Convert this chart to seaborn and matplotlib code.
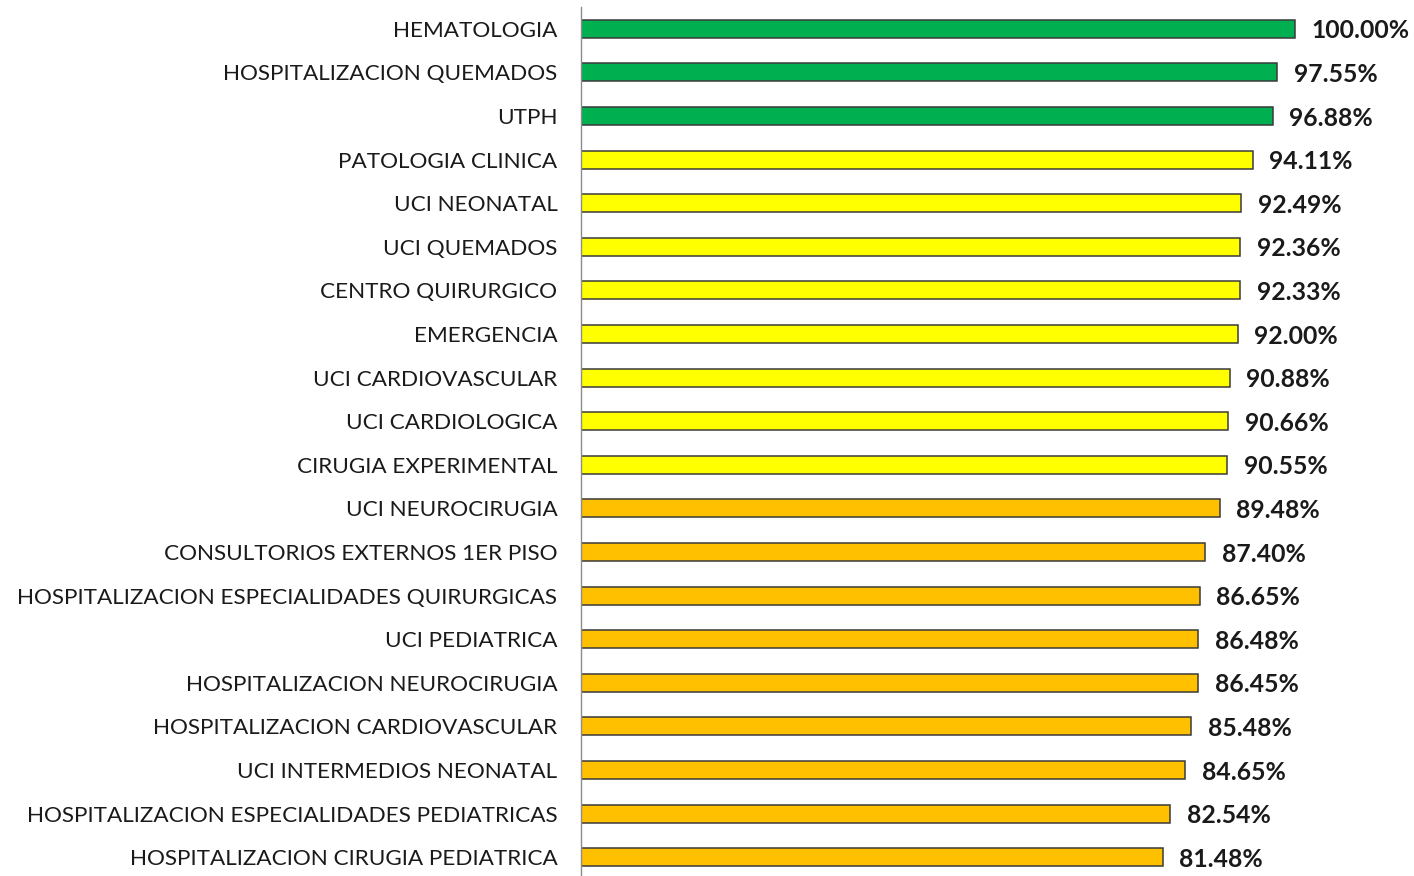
import matplotlib
matplotlib.use("Agg")
import matplotlib.pyplot as plt
import seaborn as sns
import pandas as pd
from matplotlib.ticker import FixedLocator

servicios = [
    "HEMATOLOGIA",
    "HOSPITALIZACION QUEMADOS",
    "UTPH",
    "PATOLOGIA CLINICA",
    "UCI NEONATAL",
    "UCI QUEMADOS",
    "CENTRO QUIRURGICO",
    "EMERGENCIA",
    "UCI CARDIOVASCULAR",
    "UCI CARDIOLOGICA",
    "CIRUGIA EXPERIMENTAL",
    "UCI NEUROCIRUGIA",
    "CONSULTORIOS EXTERNOS 1ER PISO",
    "HOSPITALIZACION ESPECIALIDADES QUIRURGICAS",
    "UCI PEDIATRICA",
    "HOSPITALIZACION NEUROCIRUGIA",
    "HOSPITALIZACION CARDIOVASCULAR",
    "UCI INTERMEDIOS NEONATAL",
    "HOSPITALIZACION ESPECIALIDADES PEDIATRICAS",
    "HOSPITALIZACION CIRUGIA PEDIATRICA",
]
porcentajes = [100.00, 97.55, 96.88, 94.11, 92.49, 92.36, 92.33, 92.00, 90.88,
               90.66, 90.55, 89.48, 87.40, 86.65, 86.48, 86.45, 85.48, 84.65,
               82.54, 81.48]
niveles = ["alto"] * 3 + ["medio"] * 8 + ["bajo"] * 9
colores = {"alto": "#00B050", "medio": "#FFFF00", "bajo": "#FFC000"}

df = pd.DataFrame({"servicio": servicios, "valor": porcentajes, "nivel": niveles})

sns.set_style("white")
plt.rcParams["font.family"] = ["Lato", "DejaVu Sans"]

fig = plt.figure(figsize=(14.14, 8.76), dpi=100)
ax = fig.add_axes([581 / 1414, -3 / 876, (1414 - 581) / 1414, 872 / 876])

sns.barplot(data=df, x="valor", y="servicio", hue="nivel", palette=colores,
            saturation=1, dodge=False, width=0.41, edgecolor="#3a3a3a",
            linewidth=1.1, legend=False, ax=ax, order=servicios)

ax.set_xlim(0, 116.7)
ax.set_ylim(len(servicios) - 0.5, -0.5)
ax.set_xlabel("")
ax.set_ylabel("")
ax.set_xticks([])

for s in ["top", "right", "bottom"]:
    ax.spines[s].set_visible(False)
ax.spines["left"].set_color("#8c8c8c")
ax.spines["left"].set_linewidth(1.0)

# labels at category centres without marks, marks at the boundaries
ax.tick_params(axis="y", which="major", length=0, pad=17, labelsize=16.2,
               labelcolor="#1a1a1a")
ax.yaxis.set_minor_locator(FixedLocator([i - 0.5 for i in range(len(servicios) + 1)]))
ax.tick_params(axis="y", which="minor", length=6, width=1.0, color="#8c8c8c",
               direction="out")

for cont in ax.containers:
    labels = [f"{b.get_width():.2f}%" if b.get_width() > 0 else "" for b in cont]
    for t in ax.bar_label(cont, labels=labels, padding=12, fontsize=17.8,
                          fontweight="bold", color="#1a1a1a"):
        t.set_va("center_baseline")

fig.savefig("out.png", dpi=100)
